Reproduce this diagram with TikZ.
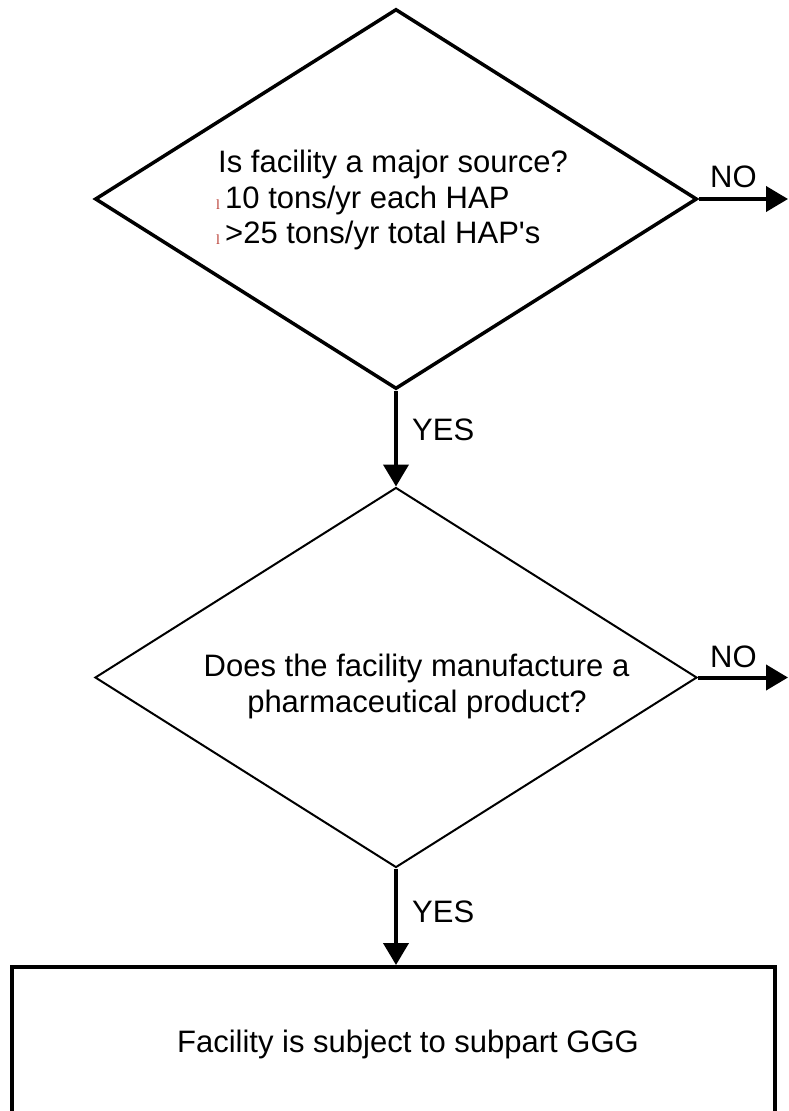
\documentclass[tikz,border=0pt]{standalone}
\usepackage{fontspec}
\setmainfont{Liberation Sans}
\newfontfamily\bulletfont{Liberation Serif}
\usetikzlibrary{shapes.geometric,arrows.meta}
\definecolor{bulletred}{HTML}{B83A30}
\begin{document}
\begin{tikzpicture}[x=1pt,y=-1pt,
  decision/.style={draw, shape=diamond, inner sep=0pt, minimum width=602pt, minimum height=380pt},
  resultbox/.style={draw, rectangle, inner sep=0pt, line width=4pt},
  txt/.style={inner sep=0pt, font=\fontsize{31}{35.5}\selectfont},
  bul/.style={inner sep=0pt, anchor=base west, text=bulletred, font=\bulletfont\fontsize{14}{14}\selectfont},
  arr/.style={line width=4pt, -{Triangle[length=22pt,width=25pt]}}]
\useasboundingbox (0,0) rectangle (788,1111);
\clip (0,0) rectangle (788,1111);
% shapes
\node[decision, line width=3.5pt] (q1) at (396,199) {};
\node[decision, line width=2pt] (q2) at (396,677.5) {};
\node[resultbox, minimum width=763pt, minimum height=220pt, anchor=north] (res) at (393.5,965) {};
% texts
\node[txt, anchor=base west] (q1a) at (218,172) {Is facility a major source?};
\node[bul] (b1) at (216,209) {l};
\node[txt, anchor=base west] (q1b) at (225,208) {10 tons/yr each HAP};
\node[bul] (b2) at (216,244) {l};
\node[txt, anchor=base west] (q1c) at (225,243) {>25 tons/yr total HAP\textquotesingle s};
\node[txt, anchor=base] (q2a) at (416.5,676) {Does the facility manufacture a};
\node[txt, anchor=base] (q2b) at (417,712) {pharmaceutical product?};
\node[txt, anchor=base] (rest) at (408,1052) {Facility is subject to subpart GGG};
% connectors
\coordinate (n1) at (788,199);
\coordinate (n2) at (788,677.5);
\draw[arr] (q1.east) -- (n1);
\draw[arr] (q1.south) -- (q2.north);
\draw[arr] (q2.east) -- (n2);
\draw[arr] (q2.south) -- (q2.south |- res.north);
\node[txt, anchor=base west] (no1) at (710,187) {NO};
\node[txt, anchor=base west] (no2) at (710,667) {NO};
\node[txt, anchor=base west] (yes1) at (412,440) {YES};
\node[txt, anchor=base west] (yes2) at (412,922) {YES};
\end{tikzpicture}
\end{document}
